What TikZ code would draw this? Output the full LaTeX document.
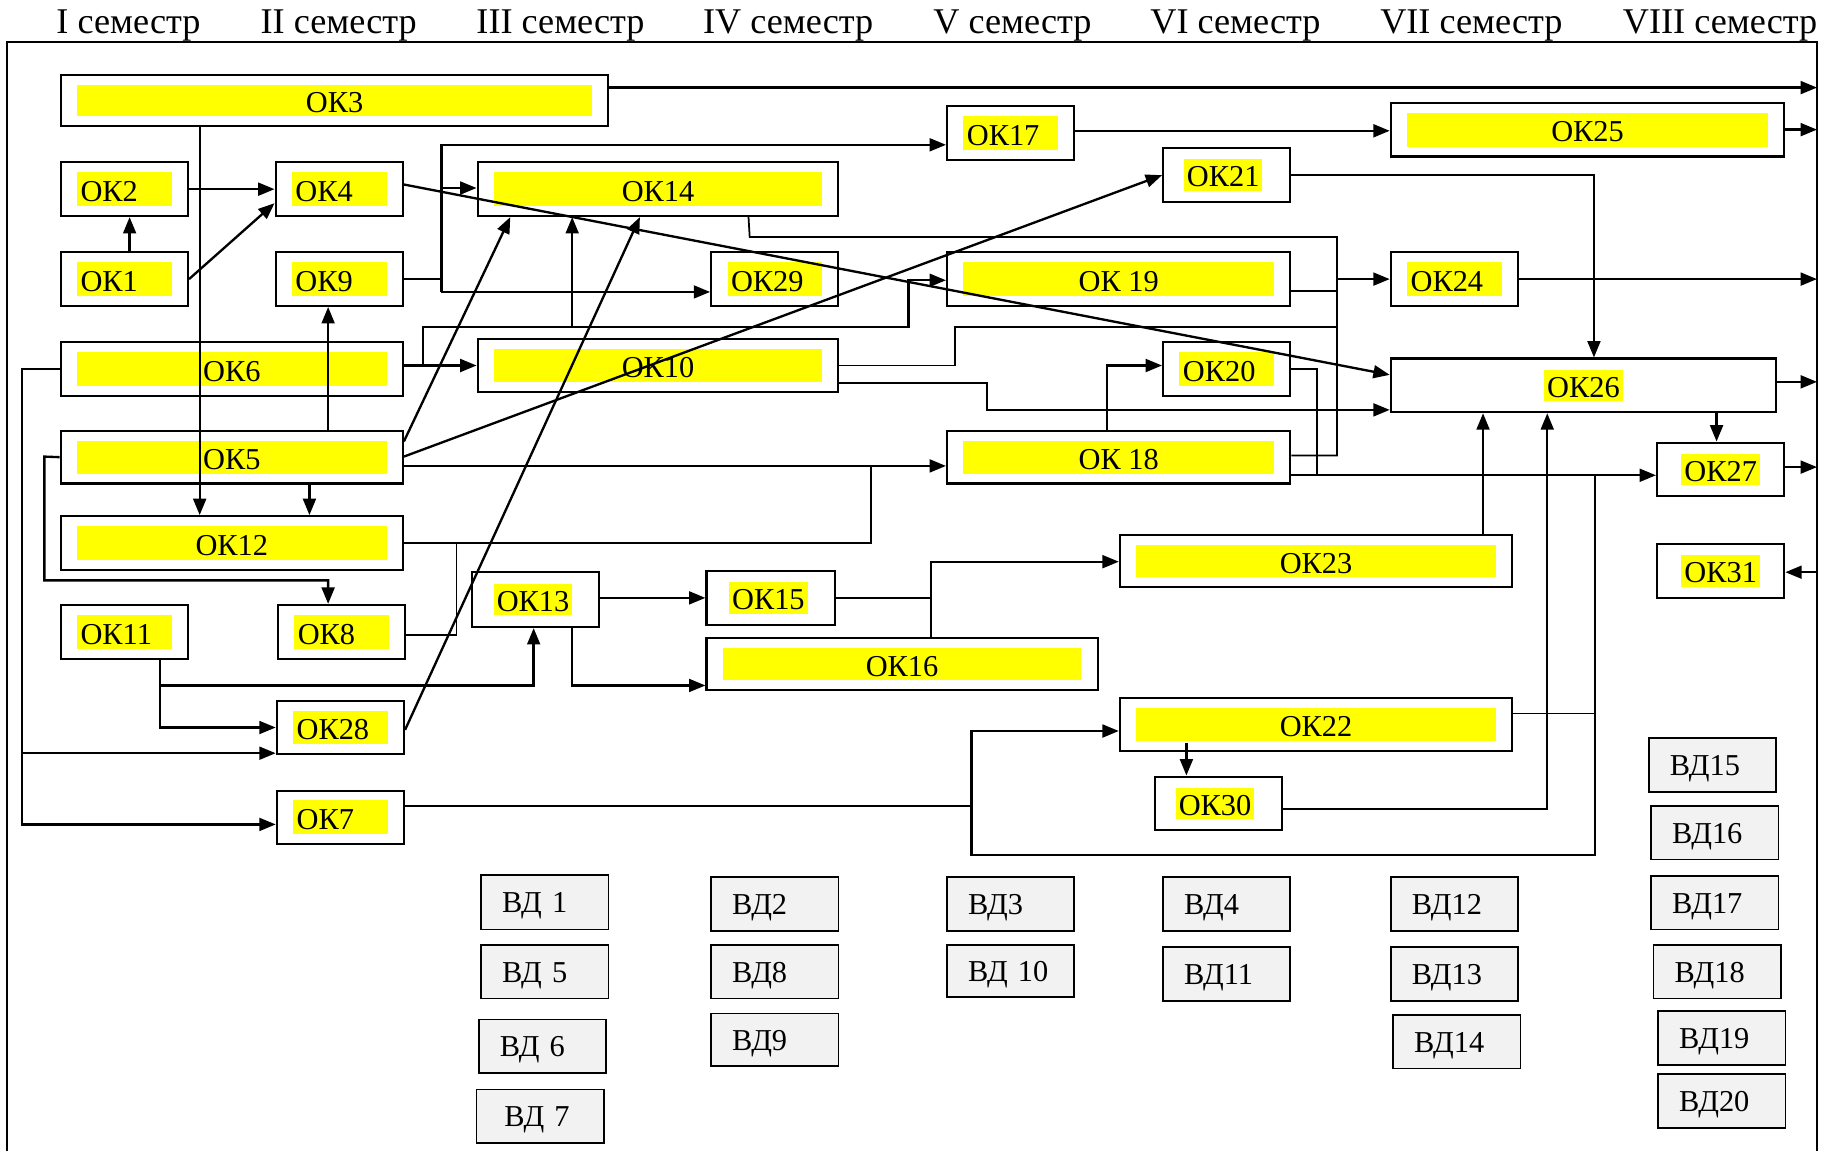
\documentclass[tikz,border=0pt]{standalone}
\usepackage{fontspec}
\setmainfont{Liberation Serif}
\usetikzlibrary{arrows.meta,calc}
\definecolor{vdgray}{HTML}{F2F2F2}
\definecolor{yel}{RGB}{255,255,0}
\newcommand\hlt[1]{{\setlength\fboxsep{2.5pt}\colorbox{yel}{\rule[-1pt]{0pt}{22pt}#1}}}
\newcommand\okbox[7]{\node[#1, minimum width={(#5-#3)*1pt}, minimum height={(#6-#4)*1pt}] (#2) at ({(#3+#5)/2},{(#4+#6)/2}) {#7};}
\tikzset{
 base/.style={draw, line width=1.8pt, fill=white, inner sep=0pt, font=\fontsize{26}{30}\selectfont, anchor=center},
 band/.style={path picture={\fill[yel] ([shift={(14pt,-8.5pt)}]path picture bounding box.north west) rectangle ([shift={(-14pt,8.5pt)}]path picture bounding box.south east);}},
 okw/.style={base, band, align=center, text height=21pt, text depth=0pt},
 oks/.style={base, band, text width=75pt, align=left, inner xsep=17pt, text height=21pt, text depth=0pt},
 okh/.style={base, align=center},
 vd/.style={base, fill=vdgray, line width=1.5pt, text width=73pt, align=left, inner xsep=18pt, text height=20pt, text depth=2pt},
 hdr/.style={anchor=base, inner sep=0pt, font=\fontsize{31}{36}\selectfont},
 arr/.style={line width=2pt, -{Triangle[length=14pt,width=11pt]}},
 ln/.style={line width=1.5pt},
}
\begin{document}
\begin{tikzpicture}[x=1pt,y=-1pt]
\useasboundingbox (0,0) rectangle (1568,986);
% header
\node[hdr] (h1) at (110,29) {I семестр};
\node[hdr] (h2) at (290,29) {II семестр};
\node[hdr] (h3) at (480,29) {III семестр};
\node[hdr] (h4) at (675,29) {IV семестр};
\node[hdr] (h5) at (867,29) {V семестр};
\node[hdr] (h6) at (1058,29) {VI семестр};
\node[hdr] (h7) at (1260,29) {VII семестр};
\node[hdr] (h8) at (1473,29) {VIII семестр};
% frame
\draw[line width=1.8pt] (6,986) -- (6,36) -- (1556,36) -- (1556,986);
% OK boxes
\okbox{okw}{ok3}{52}{64}{521}{108}{ОК3}
\okbox{oks}{ok2}{52}{139}{161}{185}{ОК2}
\okbox{oks}{ok4}{236}{139}{345}{185}{ОК4}
\okbox{oks}{ok1}{52}{216}{161}{262}{ОК1}
\okbox{oks}{ok9}{236}{216}{345}{262}{ОК9}
\okbox{okw}{ok14}{409}{139}{718}{185}{ОК14}
\okbox{oks}{ok17}{811}{91}{920}{137}{ОК17}
\okbox{okw}{ok25}{1191}{88}{1528}{134}{ОК25}
\okbox{okh}{ok21}{996}{127}{1105}{173}{\hlt{ОК21}\hspace{6pt}}
\okbox{oks}{ok29}{609}{216}{718}{262}{ОК29}
\okbox{okw}{ok19}{811}{216}{1105}{262}{ОК 19}
\okbox{oks}{ok24}{1191}{216}{1300}{262}{ОК24}
\okbox{okw}{ok6}{52}{293}{345}{339}{ОК6}
\okbox{okw}{ok10}{409}{290}{718}{336}{ОК10}
\okbox{oks}{ok20}{996}{293}{1105}{339}{ОК20}
\okbox{okh}{ok26}{1191}{307}{1521}{353}{\hlt{ОК26}}
\okbox{okw}{ok5}{52}{369}{345}{414}{ОК5}
\okbox{okw}{ok18}{811}{369}{1105}{414}{ОК 18}
\okbox{okh}{ok27}{1419}{379}{1528}{425}{\hlt{ОК27}}
\okbox{okw}{ok12}{52}{442}{345}{488}{ОК12}
\okbox{okw}{ok23}{959}{458}{1295}{503}{ОК23}
\okbox{okh}{ok31}{1419}{466}{1528}{512}{\hlt{ОК31}}
\okbox{okh}{ok13}{404}{490}{513}{537}{\hlt{ОК13}\hspace{4pt}}
\okbox{okh}{ok15}{605}{489}{715}{535}{\hlt{ОК15}\hspace{4pt}}
\okbox{oks}{ok11}{52}{518}{161}{564}{ОК11}
\okbox{oks}{ok8}{238}{518}{347}{564}{ОК8}
\okbox{okw}{ok16}{605}{546}{940}{591}{ОК16}
\okbox{oks}{ok28}{237}{600}{346}{646}{ОК28}
\okbox{okw}{ok22}{959}{598}{1295}{643}{ОК22}
\okbox{okh}{ok30}{989}{665}{1098}{711}{\hlt{ОК30}\hspace{6pt}}
\okbox{oks}{ok7}{237}{677}{346}{723}{ОК7}
% VD boxes
\okbox{vd}{vd1}{412}{749}{521}{796}{ВД 1}
\okbox{vd}{vd5}{412}{809}{521}{855}{ВД 5}
\okbox{vd}{vd6}{410}{873}{519}{919}{ВД 6}
\okbox{vd}{vd7}{408}{933}{517}{979}{\hspace{6pt}ВД 7}
\okbox{vd}{vd2}{609}{751}{718}{797}{ВД2}
\okbox{vd}{vd8}{609}{809}{718}{855}{ВД8}
\okbox{vd}{vd9}{609}{868}{718}{913}{ВД9}
\okbox{vd}{vd3}{811}{751}{920}{797}{ВД3}
\okbox{vd}{vd10}{811}{809}{920}{854}{ВД 10}
\okbox{vd}{vd4}{996}{751}{1105}{797}{ВД4}
\okbox{vd}{vd11}{996}{811}{1105}{857}{ВД11}
\okbox{vd}{vd12}{1191}{751}{1300}{797}{ВД12}
\okbox{vd}{vd13}{1191}{811}{1300}{857}{ВД13}
\okbox{vd}{vd14}{1193}{869}{1302}{915}{ВД14}
\okbox{vd}{vd15}{1412}{632}{1521}{678}{ВД15}
\okbox{vd}{vd16}{1414}{690}{1523}{736}{ВД16}
\okbox{vd}{vd17}{1414}{750}{1523}{796}{ВД17}
\okbox{vd}{vd18}{1416}{809}{1525}{855}{ВД18}
\okbox{vd}{vd19}{1420}{866}{1529}{912}{ВД19}
\okbox{vd}{vd20}{1420}{920}{1529}{966}{ВД20}
% connectors
\draw[arr] (ok3.east|-0,75) -- (1556,75);
\draw[arr] (ok3.south-|171,0) -- (ok12.north-|171,0);
\draw[arr] (ok2.east) -- (ok4.west);
\draw[arr] (ok1.north-|111,0) -- (ok2.south-|111,0);
\draw[arr] (ok1.east) -- (ok4.west|-0,174);
\draw[arr] (ok4.east|-0,158) -- (ok26.west|-0,321);
\draw[ln] (ok9.east) -- (378,239);
\draw[arr] (378,250) -- (378,124) -- (ok17.west|-0,124);
\draw[arr] (378,161) -- (ok14.west|-0,161);
\draw[arr] (378,250) -- (ok29.west|-0,250);
\draw[ln] (ok14.south-|641,0) -- (642,203) -- (1145,203) -- (1145,390) -- (ok18.east|-0,390);
\draw[ln] (ok19.east|-0,249) -- (1145,249);
\draw[arr] (1145,239) -- (ok24.west);
\draw[ln] (1145,280) -- (818,280) -- (818,313) -- (ok10.east|-0,313);
\draw[arr] (ok10.east|-0,328) -- (845,328) -- (845,351) -- (ok26.west|-0,351);
\draw[arr] (ok6.east|-0,313) -- (ok10.west|-0,313);
\draw[arr] (362,313) -- (362,280) -- (778,280) -- (778,240) -- (ok19.west|-0,240);
\draw[arr] (490,280) -- (ok14.south-|490,0);
\draw[arr] (ok6.west) -- (19,316) -- (19,706) -- (ok7.west|-0,706);
\draw[arr] (19,645) -- (ok28.west|-0,645);
\draw[arr] (ok5.north-|281,0) -- (ok9.south-|281,0);
\draw[arr] (ok5.south-|265,0) -- (ok12.north-|265,0);
\draw[arr] (ok5.west) -- (38,391) -- (38,497) -- (281,497) -- (ok8.north-|281,0);
\draw[arr] (ok5.east|-0,378) -- (ok14.south-|437,0);
\draw[arr] (ok5.east|-0,391) -- (ok21.west|-0,150);
\draw[arr] (ok5.east|-0,399) -- (ok18.west|-0,399);
\draw[ln] (ok12.east|-0,465) -- (746,465) -- (746,399);
\draw[ln] (391,465) -- (391,544) -- (ok8.east|-0,544);
\draw[arr] (ok28.east|-0,625) -- (ok14.south-|548,0);
\draw[arr] (ok11.south-|137,0) -- (137,623) -- (ok28.west|-0,623);
\draw[arr] (137,587) -- (457,587) -- (ok13.south-|457,0);
\draw[arr] (ok13.east|-0,512) -- (ok15.west|-0,512);
\draw[arr] (ok13.south-|490,0) -- (490,587) -- (ok16.west|-0,587);
\draw[ln] (ok15.east|-0,512) -- (797,512);
\draw[arr] (ok16.north-|797,0) -- (797,481) -- (ok23.west|-0,481);
\draw[arr] (ok23.north-|1270,0) -- (ok26.south-|1270,0);
\draw[arr] (ok30.east|-0,693) -- (1325,693) -- (ok26.south-|1325,0);
\draw[ln] (ok22.east|-0,611) -- (1366,611);
\draw[arr] (1366,407) -- (1366,732) -- (832,732) -- (832,626) -- (ok22.west|-0,626);
\draw[ln] (ok7.east|-0,690) -- (832,690);
\draw[arr] (ok18.east|-0,407) -- (ok27.west|-0,407);
\draw[ln] (ok20.east|-0,316) -- (1128,316) -- (1128,408);
\draw[arr] (ok18.north-|948,0) -- (948,313) -- (ok20.west|-0,313);
\draw[arr] (ok21.east|-0,150) -- (1365,150) -- (ok26.north-|1365,0);
\draw[arr] (ok17.east|-0,112) -- (ok25.west|-0,112);
\draw[arr] (ok25.east) -- (1556,111);
\draw[arr] (ok24.east) -- (1556,239);
\draw[arr] (ok26.east|-0,327) -- (1556,327);
\draw[arr] (ok26.south-|1470,0) -- (ok27.north-|1470,0);
\draw[arr] (ok27.east|-0,400) -- (1556,400);
\draw[arr] (1556,490) -- (ok31.east|-0,490);
\draw[arr] (1016,636) -- (ok30.north-|1016,0);
\end{tikzpicture}
\end{document}
